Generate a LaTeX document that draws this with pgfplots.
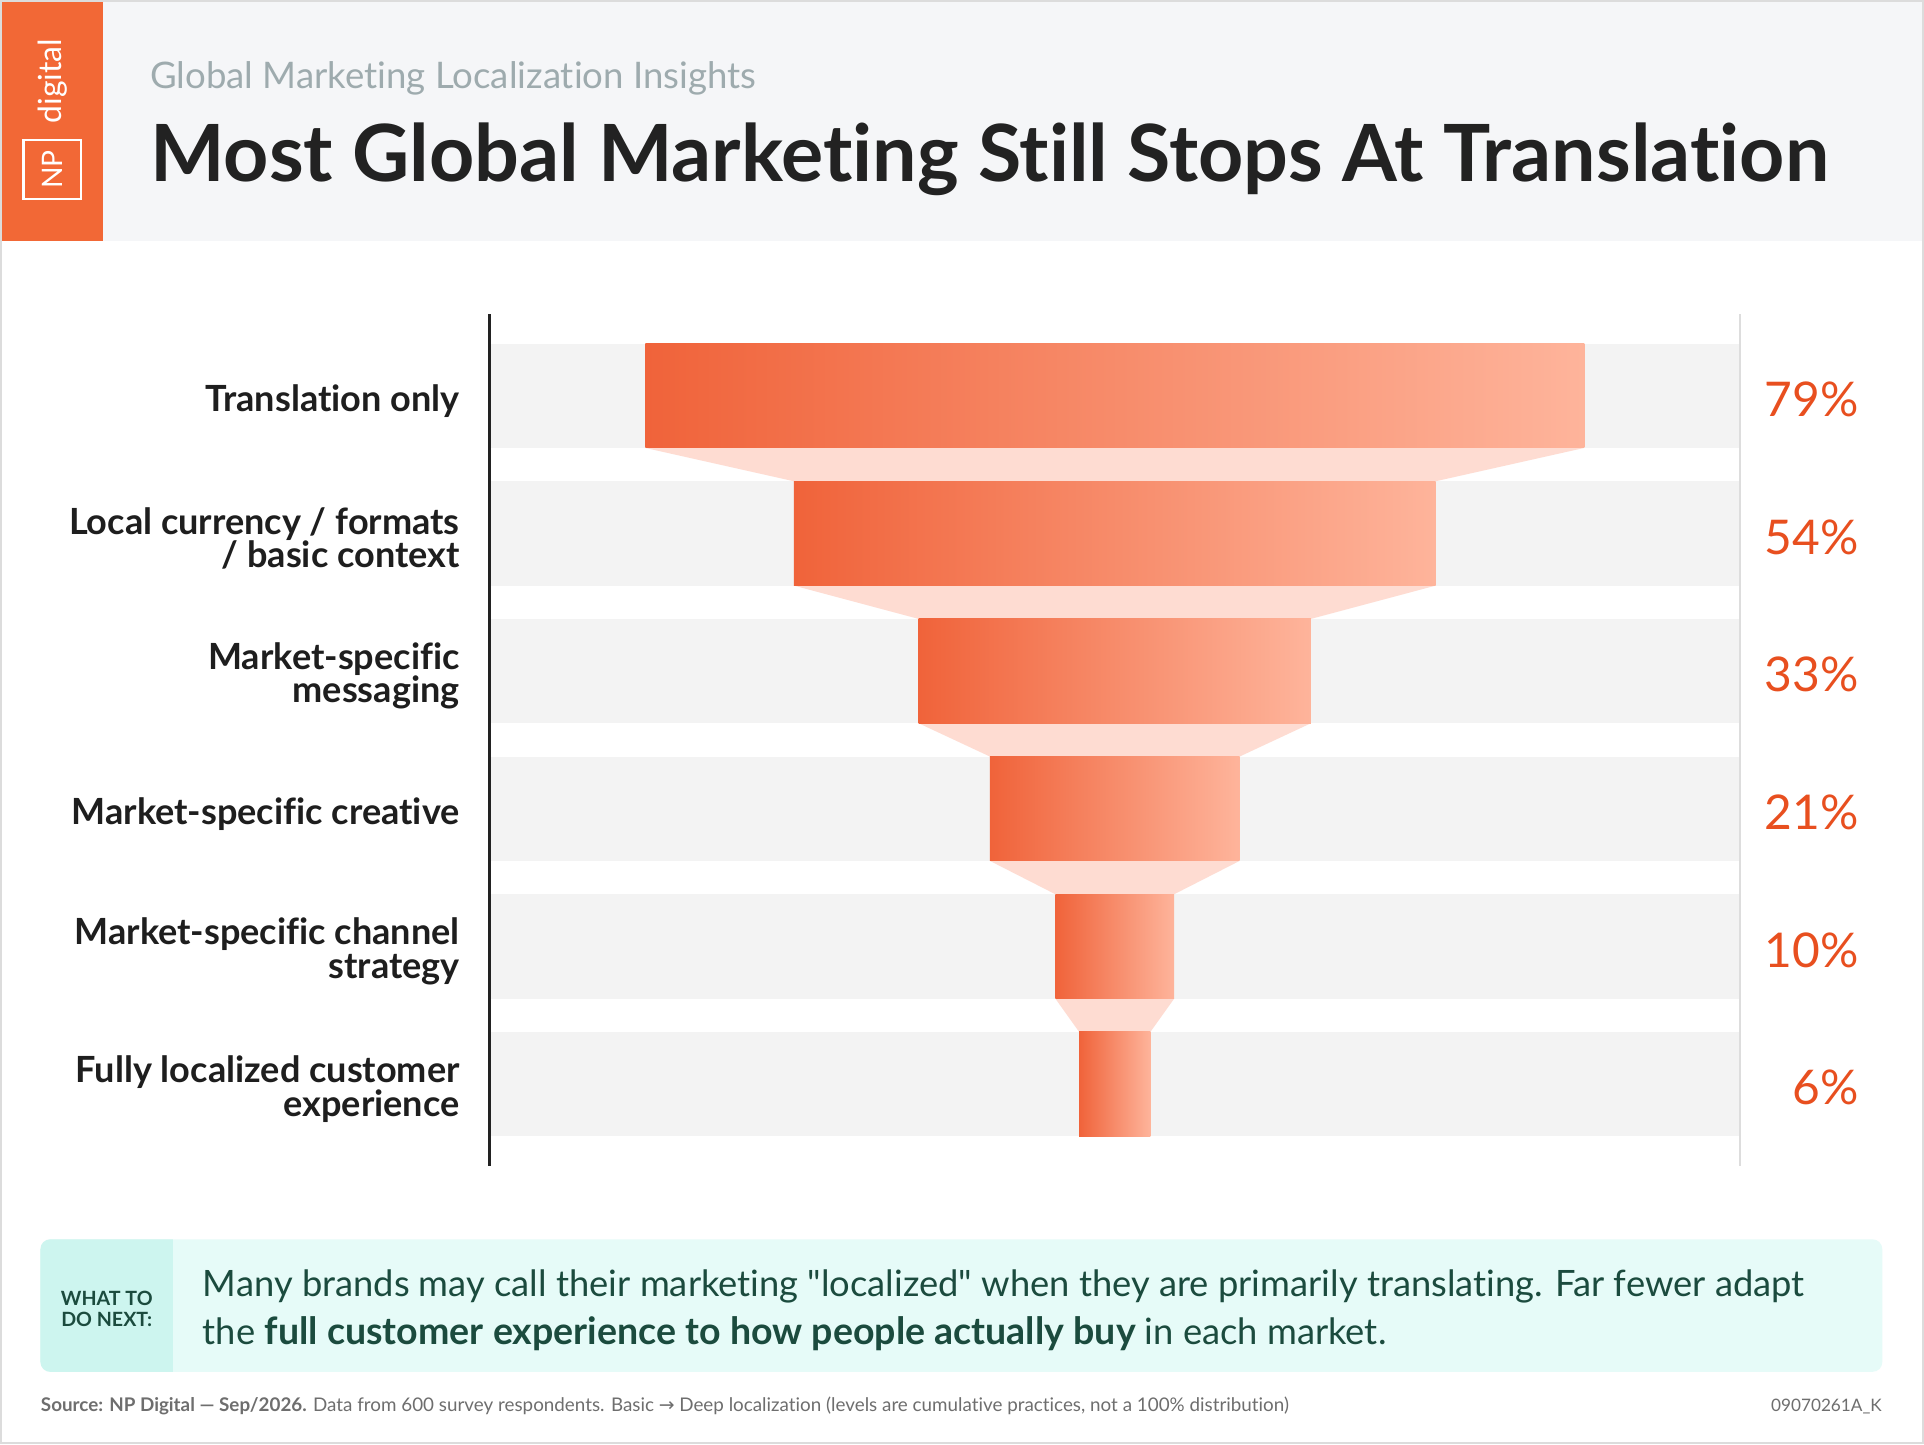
\documentclass[border=0pt]{standalone}
\usepackage{pgfplots}
\pgfplotsset{compat=1.18}
\usepackage{fontspec}
\setmainfont{Lato}[Ligatures={TeXOff,NoCommon}]
\newfontfamily\dejavu{DejaVu Sans}
\definecolor{hdr}{HTML}{F5F6F8}
\definecolor{npor}{HTML}{F26836}
\definecolor{subc}{HTML}{9EABAE}
\definecolor{ttl}{HTML}{222222}
\definecolor{band}{HTML}{F3F3F3}
\definecolor{barL}{HTML}{F0633A}
\definecolor{barR}{HTML}{FEB49B}
\definecolor{conn}{HTML}{FEDCD2}
\definecolor{valc}{HTML}{E84F1F}
\definecolor{labc}{HTML}{1E1E1E}
\definecolor{axisc}{HTML}{222222}
\definecolor{rline}{HTML}{DDDDDD}
\definecolor{callbg}{HTML}{E6FBF8}
\definecolor{callleft}{HTML}{CDF5EF}
\definecolor{calltxt}{HTML}{1B4B3E}
\definecolor{footc}{HTML}{6E6E6E}
\definecolor{frame}{HTML}{DCDCDC}
\begin{document}
\begin{tikzpicture}[x=0.5pt,y=-0.5pt]
\useasboundingbox (0,0) rectangle (1568,1177);
\fill[white] (0,0) rectangle (1568,1177);
% header
\fill[hdr] (0,0) rectangle (1568,196);
\fill[npor] (0,0) rectangle (84,196);
\node[rotate=90, text=white, inner sep=0, font=\fontsize{13}{13}\selectfont] at (43,66) {digital};
\draw[white, line width=1pt] (19,114) rectangle (66,162);
\node[rotate=90, text=white, inner sep=0, font=\fontsize{11.5}{11.5}\selectfont] at (43,138) {NP};
\node[anchor=base west, inner sep=0, text=subc, font=\fontsize{14}{14}\selectfont] at (122,72) {\resizebox{247pt}{!}{Global Marketing Localization Insights}};
\node[anchor=base west, inner sep=0, text=ttl, font=\bfseries\fontsize{33}{33}\selectfont] at (122,148) {\resizebox{684pt}{!}{Most Global Marketing Still Stops At Translation}};
% chart
\coordinate (axpos) at (399,950);
\begin{axis}[
  at={(axpos)}, anchor=south west,
  scale only axis, width=509.5pt, height=347pt,
  xmin=-52.6, xmax=52.6, ymin=0.407, ymax=6.593,
  axis x line=none, axis y line=left,
  axis line style={-, draw=axisc, line width=1.2pt},
  ytick={1,2,3,4,5,6},
  yticklabels={{Fully localized customer\\experience},{Market-specific channel\\strategy},{Market-specific creative},{Market-specific\\messaging},{Local currency / formats\\/ basic context},{Translation only}},
  major tick length=0pt,
  yticklabel style={align=right, anchor=east, inner sep=0pt, xshift=-12pt, yshift=-2pt, text=labc, font=\bfseries\fontsize{14.7}{13.6}\selectfont},
  clip=false, axis on top,
]
% background bands
\fill[band] (axis cs:-52.6,5.621) rectangle (axis cs:52.6,6.379);
\fill[band] (axis cs:-52.6,4.621) rectangle (axis cs:52.6,5.379);
\fill[band] (axis cs:-52.6,3.621) rectangle (axis cs:52.6,4.379);
\fill[band] (axis cs:-52.6,2.621) rectangle (axis cs:52.6,3.379);
\fill[band] (axis cs:-52.6,1.621) rectangle (axis cs:52.6,2.379);
\fill[band] (axis cs:-52.6,0.621) rectangle (axis cs:52.6,1.379);
% connectors
\addplot[fill=conn, draw=none] coordinates {(-39.5,5.621)(39.5,5.621)(27,5.379)(-27,5.379)} -- cycle;
\addplot[fill=conn, draw=none] coordinates {(-27,4.621)(27,4.621)(16.5,4.379)(-16.5,4.379)} -- cycle;
\addplot[fill=conn, draw=none] coordinates {(-16.5,3.621)(16.5,3.621)(10.5,3.379)(-10.5,3.379)} -- cycle;
\addplot[fill=conn, draw=none] coordinates {(-10.5,2.621)(10.5,2.621)(5,2.379)(-5,2.379)} -- cycle;
\addplot[fill=conn, draw=none] coordinates {(-5,1.621)(5,1.621)(3,1.379)(-3,1.379)} -- cycle;
% bars: 79, 54, 33, 21, 10, 6 (centred)
\addplot[draw=none, left color=barL, right color=barR] coordinates {(-39.5,5.621)(39.5,5.621)(39.5,6.379)(-39.5,6.379)} -- cycle;
\addplot[draw=none, left color=barL, right color=barR] coordinates {(-27,4.621)(27,4.621)(27,5.379)(-27,5.379)} -- cycle;
\addplot[draw=none, left color=barL, right color=barR] coordinates {(-16.5,3.621)(16.5,3.621)(16.5,4.379)(-16.5,4.379)} -- cycle;
\addplot[draw=none, left color=barL, right color=barR] coordinates {(-10.5,2.621)(10.5,2.621)(10.5,3.379)(-10.5,3.379)} -- cycle;
\addplot[draw=none, left color=barL, right color=barR] coordinates {(-5,1.621)(5,1.621)(5,2.379)(-5,2.379)} -- cycle;
\addplot[draw=none, left color=barL, right color=barR] coordinates {(-3,0.621)(3,0.621)(3,1.379)(-3,1.379)} -- cycle;
% right rule
\draw[rline, line width=0.8pt] (rel axis cs:1,0) -- (rel axis cs:1,1);
% values
\tikzset{valnode/.style={anchor=east, xshift=48.5pt, yshift=-1.5pt, inner sep=0pt, text=valc, font=\fontsize{19.5}{19.5}\selectfont}}
\node[valnode] at (axis cs:52.6,6) {79\%};
\node[valnode] at (axis cs:52.6,5) {54\%};
\node[valnode] at (axis cs:52.6,4) {33\%};
\node[valnode] at (axis cs:52.6,3) {21\%};
\node[valnode] at (axis cs:52.6,2) {10\%};
\node[valnode] at (axis cs:52.6,1) {6\%};
\end{axis}
% callout
\fill[callbg, rounded corners=4pt] (33,1010) rectangle (1534,1118);
\begin{scope}
\clip[rounded corners=4pt] (33,1010) rectangle (1534,1118);
\fill[callleft] (33,1010) rectangle (141,1118);
\end{scope}
\node[align=center, inner sep=0, text=calltxt, font=\bfseries\fontsize{8}{8.5}\selectfont] at (87,1067) {WHAT TO\\DO NEXT:};
\node[anchor=base west, inner sep=0, text=calltxt, font=\fontsize{14.8}{14.8}\selectfont] at (165,1057) {Many brands may call their marketing "localized" when they are primarily translating. Far fewer adapt};
\node[anchor=base west, inner sep=0, text=calltxt, font=\fontsize{14.8}{14.8}\selectfont] at (165,1096) {the {\bfseries\fontsize{15.3}{15.3}\selectfont full customer experience to how people actually buy} in each market.};
% footer
\node[anchor=base west, inner sep=0, text=footc, font=\fontsize{7}{7}\selectfont] at (33,1150) {\resizebox{508.5pt}{!}{\textbf{Source: NP Digital — Sep/2026.} Data from 600 survey respondents. Basic {\dejavu →} Deep localization (levels are cumulative practices, not a 100\% distribution)}};
\node[anchor=base east, inner sep=0, text=footc, font=\fontsize{7}{7}\selectfont] at (1534,1150) {09070261A\_K};
% frame
\draw[frame, line width=1pt] (1,1) rectangle (1567,1176);
\end{tikzpicture}
\end{document}
